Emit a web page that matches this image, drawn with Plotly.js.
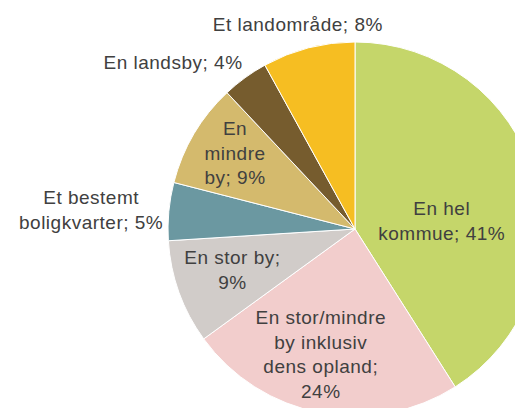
<!DOCTYPE html>
<html>
<head>
<meta charset="utf-8">
<script src="https://cdn.plot.ly/plotly-3.0.1.min.js"></script>
<style>
html, body { margin: 0; padding: 0; width: 515px; height: 408px; overflow: hidden; background: #fff; }
#chart { position: absolute; left: 0; top: 0; width: 600px; height: 450px; }
#chart .annotation-text { letter-spacing: 0.5px; }
</style>
</head>
<body>
<div id="chart"></div>
<script>
// Data
const categories = [
  "En hel kommue",
  "En stor/mindre by inklusiv dens opland",
  "En stor by",
  "Et bestemt boligkvarter",
  "En mindre by",
  "En landsby",
  "Et landområde"
];
const shares = [41, 24, 9, 5, 9, 4, 8];
const labelTexts = [
  "En hel<br>kommue; 41%",
  "En stor/mindre<br>by inklusiv<br>dens opland;<br>24%",
  "En stor by;<br>9%",
  "Et bestemt<br>boligkvarter; 5%",
  "En<br>mindre<br>by; 9%",
  "En landsby; 4%",
  "Et landområde; 8%"
];
const sliceColors = ["#C5D66A", "#F2CDCC", "#D1CCC9", "#6B98A1", "#D4BA6D", "#765C2E", "#F6BE22"];

// Layout geometry (pixels in a 600x450 canvas)
const W = 600, H = 450;
const cx = 355, cy = 229, r = 187;
const labelPos = [
  [442, 221], [321, 354], [232, 270], [91, 210], [235, 153], [173, 62], [298, 24]
];

const trace = {
  type: "pie",
  labels: categories,
  values: shares,
  sort: false,
  direction: "clockwise",
  rotation: 0,
  textinfo: "none",
  hoverinfo: "label+percent",
  marker: { colors: sliceColors, line: { color: "#ffffff", width: 1 } },
  domain: { x: [(cx - r) / W, (cx + r) / W], y: [(H - cy - r) / H, (H - cy + r) / H] },
  showlegend: false
};

const annotations = labelTexts.map((t, i) => ({
  text: t,
  xref: "paper", yref: "paper",
  x: labelPos[i][0] / W, y: 1 - labelPos[i][1] / H,
  xanchor: "center", yanchor: "middle",
  showarrow: false,
  align: "center",
  font: { family: "Liberation Sans, Arial, sans-serif", size: 19, color: "#404040" }
}));

const layout = {
  width: W, height: H,
  margin: { l: 0, r: 0, t: 0, b: 0 },
  paper_bgcolor: "#ffffff",
  plot_bgcolor: "#ffffff",
  showlegend: false,
  annotations: annotations
};

Plotly.newPlot("chart", [trace], layout, { displayModeBar: false, staticPlot: true });
</script>
</body>
</html>
